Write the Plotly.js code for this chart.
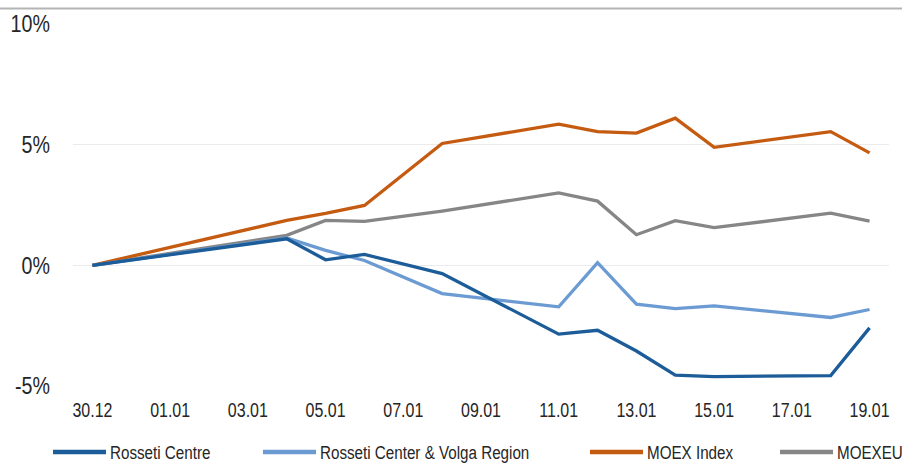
<!DOCTYPE html>
<html>
<head>
<meta charset="utf-8">
<script src="https://cdn.plot.ly/plotly-3.0.1.min.js"></script>
<style>html,body{margin:0;padding:0;background:#fff;}#chart{width:902px;height:464px;}</style>
</head>
<body>
<div id="chart"></div>
<script>
const dates = ['2020-12-30','2021-01-04','2021-01-05','2021-01-06','2021-01-08','2021-01-11','2021-01-12','2021-01-13','2021-01-14','2021-01-15','2021-01-18','2021-01-19'];
const seriesNames = ['Rosseti Centre','Rosseti Center & Volga Region','MOEX Index','MOEXEU'];
const rossetiCentre = [0, 1.10, 0.23, 0.45, -0.34, -2.85, -2.69, -3.55, -4.55, -4.61, -4.57, -2.59];
const rossetiVolga = [0, 1.14, 0.62, 0.20, -1.17, -1.72, 0.11, -1.61, -1.79, -1.68, -2.16, -1.83];
const moexIndex = [0, 1.86, 2.15, 2.48, 5.05, 5.85, 5.54, 5.48, 6.10, 4.89, 5.54, 4.66];
const moexEU = [0, 1.24, 1.86, 1.82, 2.25, 3.00, 2.66, 1.27, 1.85, 1.56, 2.16, 1.83];
const yTickVals = [-5, 0, 5, 10];
const yTickText = ['-5%', '0%', '5%', '10%'];

const colors = ['#1b5c99', '#6b9bd2', '#c55a11', '#868686'];
const values = [rossetiCentre, rossetiVolga, moexIndex, moexEU];
const FONT = '"Liberation Sans", Arial, sans-serif';
const CONDENSE = 0.82;
const LEGEND_CONDENSE = 0.8;

const traces = values.map((v, i) => ({
  type: 'scatter', mode: 'lines', x: dates, y: v, name: seriesNames[i],
  line: {color: colors[i], width: 3.3}, showlegend: false
}));
const ordered = [traces[3], traces[2], traces[1], traces[0]];

const W = 902, H = 464;
const ml = 73, plotW = 816, mt = 24, plotH = 362;
const legendX = [53, 263, 590, 780];
const legendLen = 53;
const shapes = [{type:'line', xref:'paper', yref:'paper', x0:-ml/plotW, x1:(W-ml)/plotW, y0:1+(mt-8.5)/plotH, y1:1+(mt-8.5)/plotH, line:{color:'#b4b4b4', width:2}}];
const annotations = [];
legendX.forEach((lx, i) => {
  const px0 = (lx - ml) / plotW, px1 = (lx + legendLen - ml) / plotW;
  const py = 1 - (452 - mt) / plotH;
  shapes.push({type:'line', xref:'paper', yref:'paper', x0:px0, x1:px1, y0:py, y1:py, line:{color:colors[i], width:4.5}});
  annotations.push({xref:'paper', yref:'paper', x:(lx + legendLen + 3 - ml)/plotW, y:py, xanchor:'left', yanchor:'middle', align:'left', borderpad:0, showarrow:false, text:seriesNames[i], font:{family:FONT, size:19, color:'#262626'}});
});

const layout = {
  width: W, height: H,
  margin: {l: ml, r: W - ml - plotW, t: mt, b: H - mt - plotH},
  paper_bgcolor: '#fff', plot_bgcolor: '#fff',
  xaxis: {
    type: 'date', range: ['2020-12-29 12:00', '2021-01-19 12:00'],
    tick0: '2020-12-30', dtick: 2*86400000, tickformat: '%d.%m',
    showgrid: false, zeroline: false, showline: false, ticks: '',
    tickfont: {family: FONT, size: 19.5, color: '#262626'}, ticklabelstandoff: 11
  },
  yaxis: {
    range: [-5, 10], tickvals: yTickVals, ticktext: yTickText,
    showgrid: true, gridcolor: '#ebebeb', gridwidth: 1, zeroline: false, showline: false, ticks: '',
    tickfont: {family: FONT, size: 24, color: '#262626'}, ticklabelstandoff: 22
  },
  shapes: shapes, annotations: annotations, showlegend: false
};
Plotly.newPlot('chart', ordered, layout, {displayModeBar: false, staticPlot: true}).then(() => {
  document.querySelectorAll('#chart svg text').forEach(t => {
    const inAnn = t.closest('.annotation') !== null;
    const k = inAnn ? LEGEND_CONDENSE : CONDENSE;
    const x = parseFloat(t.getAttribute('x')) || 0;
    const tr = t.getAttribute('transform') || '';
    t.setAttribute('transform', tr + ' translate(' + x + ',0) scale(' + k + ',1) translate(' + (-x) + ',0)');
  });
});
</script>
</body>
</html>
